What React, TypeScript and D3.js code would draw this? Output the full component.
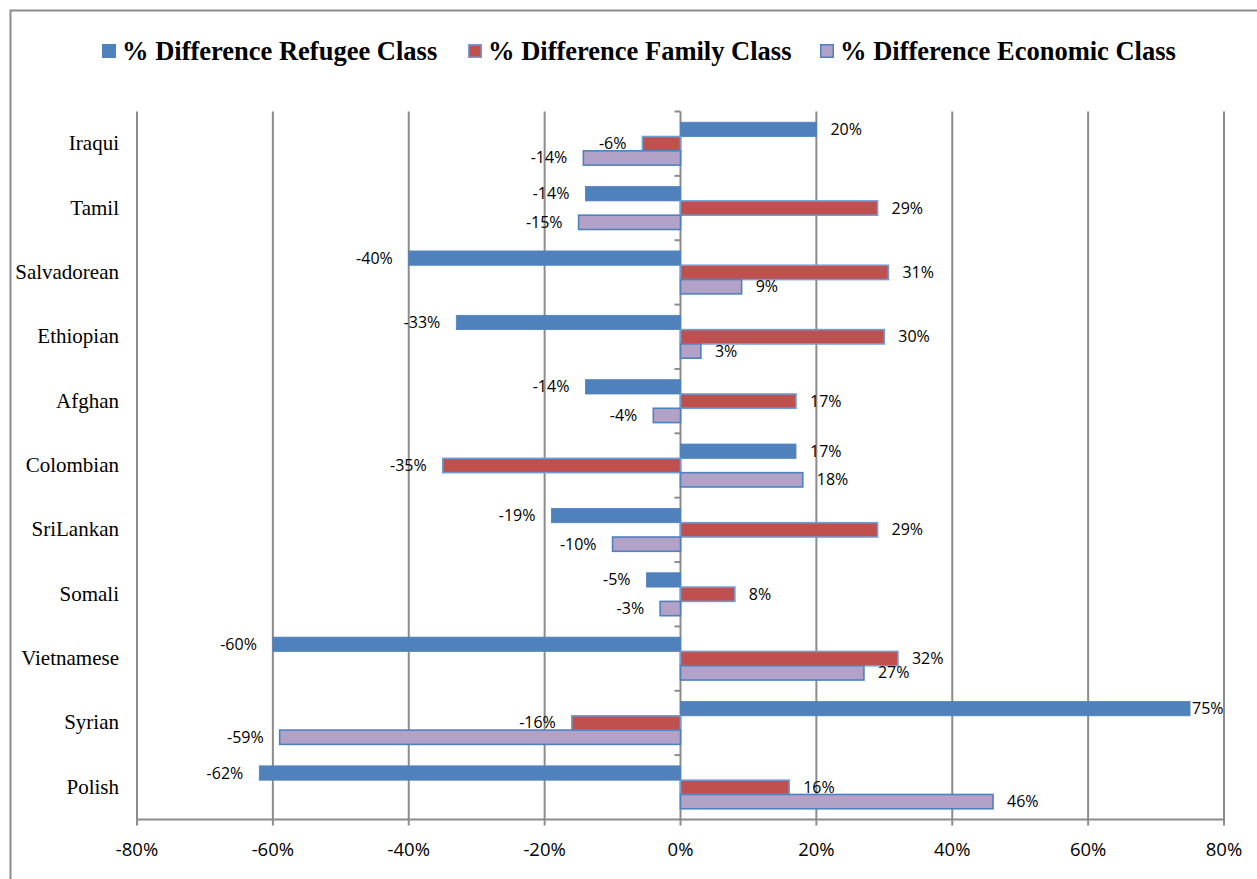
import React from "react";
import * as d3 from "d3";

const categories = ["Iraqui", "Tamil", "Salvadorean", "Ethiopian", "Afghan", "Colombian", "SriLankan", "Somali", "Vietnamese", "Syrian", "Polish"];
const refugee = [20, -14, -40, -33, -14, 17, -19, -5, -60, 75, -62];
const family = [-5.6, 29, 30.6, 30, 17, -35, 29, 8, 32, -16, 16];
const economic = [-14.3, -15, 9, 3, -4, 18, -10, -3, 27, -59, 46];
const seriesNames = ["% Difference Refugee Class", "% Difference Family Class", "% Difference Economic Class"];
const xTicks = [-80, -60, -40, -20, 0, 20, 40, 60, 80];

const W = 1257, H = 879;
const plot = { left: 137, right: 1224, top: 111.5, bottom: 819.5 };
const colors = ["#4F81BD", "#C0504D", "#B2A2C7"];
const strokes = ["#4F81BD", "#6E9DD6", "#4F81BD"];
const legendX = [102, 468, 820];
const LABEL_FONT = "'Open Sans', 'Noto Sans', sans-serif";
const SERIF = "'Liberation Serif', 'Times New Roman', serif";

export default function App() {
  const x = d3.scaleLinear().domain([-80, 80]).range([plot.left, plot.right]);
  const y = d3.scaleBand<string>().domain(categories).range([plot.top, plot.bottom]).padding(0);
  const bw = y.bandwidth();
  const barH = bw / 4.5;
  const inner = d3.scaleBand<number>().domain([0, 1, 2]).range([(bw - 3 * barH) / 2, (bw + 3 * barH) / 2]).padding(0);
  const series = [refugee, family, economic];
  const grid = "#8C8C8C";

  return (
    <div style={{ position: "absolute", left: 0, top: 0 }}>
      <svg width={W} height={H} style={{ display: "block", background: "#fff" }}>
        <rect x={10.5} y={10.5} width={W + 10} height={H + 10} fill="none" stroke="#8C8C8C" strokeWidth={2} />
        {/* legend */}
        {seriesNames.map((n, i) => (
          <g key={n}>
            <rect x={legendX[i] + 0.75} y={44.75} width={12.5} height={12.5} fill={colors[i]} stroke={strokes[i]} strokeWidth={1.5} />
            <text x={legendX[i] + 20} y={59.5} fontFamily={SERIF} fontWeight="bold" fontSize={26.5} fill="#000">{n}</text>
          </g>
        ))}
        {/* gridlines */}
        {xTicks.map((t) => (
          <line key={t} x1={x(t)} x2={x(t)} y1={plot.top} y2={plot.bottom + 6} stroke={grid} strokeWidth={2} />
        ))}
        <line x1={plot.left} x2={plot.right} y1={plot.bottom} y2={plot.bottom} stroke={grid} strokeWidth={2} />
        {/* zero axis ticks */}
        {categories.map((c) => (
          <line key={c} x1={x(0) - 6} x2={x(0)} y1={y(c)!} y2={y(c)!} stroke={grid} strokeWidth={2} />
        ))}
        {/* bars */}
        {categories.map((c, ci) =>
          series.map((s, si) => {
            const v = s[ci];
            const x0 = x(Math.min(0, v));
            const w = Math.abs(x(v) - x(0));
            const yy = y(c)! + inner(si)!;
            return (
              <rect key={c + si} x={x0} y={yy} width={w} height={barH} fill={colors[si]} stroke={strokes[si]} strokeWidth={si === 0 ? 0.8 : 1.6} />
            );
          })
        )}
        {/* data labels */}
        {categories.map((c, ci) =>
          series.map((s, si) => {
            const v = s[ci];
            const cy = y(c)! + inner(si)! + barH / 2;
            const label = `${Math.round(v)}%`;
            let lx: number;
            let anchor: "start" | "end";
            if (v >= 0) {
              lx = x(v) + 14;
              anchor = "start";
              if (lx + 32 > plot.right) lx = x(v) + 2;
            } else {
              lx = x(v) - 16;
              anchor = "end";
            }
            return (
              <text key={"l" + c + si} x={lx} y={cy + 5.5} textAnchor={anchor} fontFamily={LABEL_FONT} fontSize={16} fill="#000">{label}</text>
            );
          })
        )}
        {/* category labels */}
        {categories.map((c) => (
          <text key={"c" + c} x={119} y={y(c)! + bw / 2 + 6.5} textAnchor="end" fontFamily={SERIF} fontSize={21} fill="#000">{c}</text>
        ))}
        {/* x tick labels */}
        {xTicks.map((t) => (
          <text key={"t" + t} x={x(t)} y={856} textAnchor="middle" fontFamily={LABEL_FONT} fontSize={18.5} fill="#000">{`${t}%`}</text>
        ))}
      </svg>
    </div>
  );
}
